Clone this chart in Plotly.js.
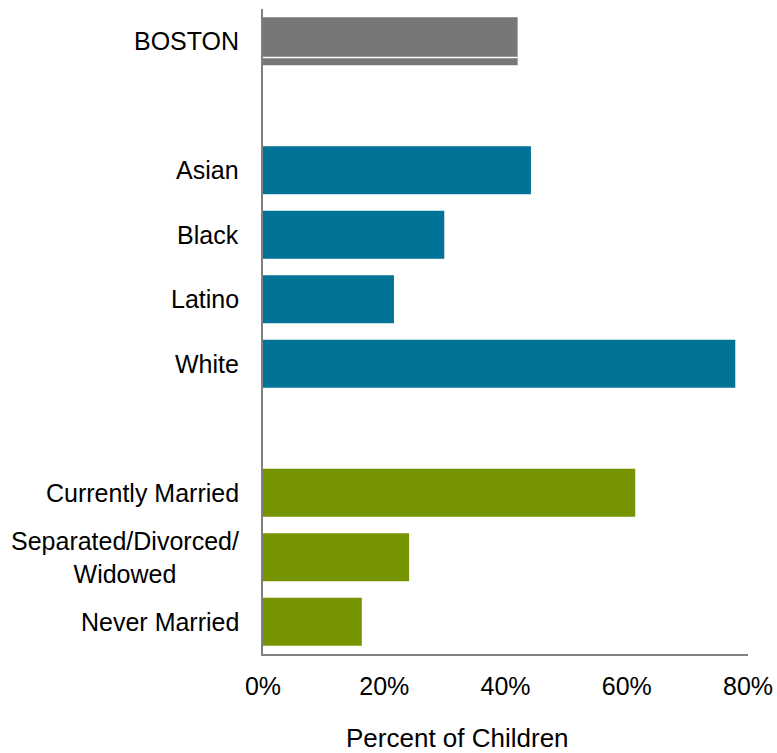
<!DOCTYPE html>
<html>
<head>
<meta charset="utf-8">
<script src="https://cdn.plot.ly/plotly-3.0.1.min.js"></script>
<style>html,body{margin:0;padding:0;background:#fff;}#chart{width:777px;height:753px;}</style>
</head>
<body>
<div id="chart"></div>
<script>
// Category order (top to bottom), with spacer slots between groups
const categoryOrder = ['BOSTON', 'gap1', 'Asian', 'Black', 'Latino', 'White', 'gap2', 'Currently Married', 'Separated/Divorced/<br>Widowed', 'Never Married'];
const labelCategories = ['BOSTON', 'Asian', 'Black', 'Latino', 'White', 'Currently Married', 'Separated/Divorced/<br>Widowed', 'Never Married'];

const bostonCats = ['BOSTON'];
const bostonVals = [42.0];

const raceCats = ['Asian', 'Black', 'Latino', 'White'];
const raceVals = [44.2, 29.9, 21.6, 77.9];

const maritalCats = ['Currently Married', 'Separated/Divorced/<br>Widowed', 'Never Married'];
const maritalVals = [61.4, 24.1, 16.3];

const xTicks = [0, 20, 40, 60, 80];

const FONT = 'Liberation Sans, Arial, sans-serif';
const barWidth = 0.745;

const traces = [
  {type: 'bar', orientation: 'h', y: bostonCats, x: bostonVals, width: barWidth, marker: {color: '#777777'}, hoverinfo: 'none'},
  {type: 'bar', orientation: 'h', y: raceCats, x: raceVals, width: barWidth, marker: {color: '#007396'}, hoverinfo: 'none'},
  {type: 'bar', orientation: 'h', y: maritalCats, x: maritalVals, width: barWidth, marker: {color: '#769400'}, hoverinfo: 'none'}
];

const annotations = labelCategories.map(c => ({
  xref: 'paper', yref: 'y', x: 0, y: c, text: c,
  xanchor: 'right', yanchor: 'middle', xshift: -22, align: 'center',
  showarrow: false, font: {family: FONT, size: 25, color: '#000'}
}));
annotations.push({
  xref: 'paper', yref: 'paper', x: 0.402, y: 0, text: 'Percent of Children',
  xanchor: 'center', yanchor: 'middle', yshift: -84, showarrow: false,
  font: {family: FONT, size: 26, color: '#000'}
});

// thin white line inside the BOSTON bar
const bostonIdx = categoryOrder.indexOf('BOSTON');
const shapes = [{
  type: 'line', xref: 'x', yref: 'y', x0: 0, x1: bostonVals[0],
  y0: bostonIdx + 0.253, y1: bostonIdx + 0.253,
  line: {color: '#ffffff', width: 1.5}
}];

const layout = {
  width: 777, height: 753,
  margin: {l: 263, r: 29, t: 9, b: 99},
  paper_bgcolor: '#ffffff', plot_bgcolor: '#ffffff',
  showlegend: false,
  barmode: 'overlay',
  font: {family: FONT, size: 25, color: '#000'},
  xaxis: {
    range: [0, 80], tickmode: 'array', tickvals: xTicks, ticktext: xTicks.map(v => v + '%'),
    showgrid: false, zeroline: false, showline: true, linecolor: '#808080', linewidth: 2,
    ticks: '', ticklabelstandoff: 9, tickfont: {family: FONT, size: 25, color: '#000'}, fixedrange: true
  },
  yaxis: {
    type: 'category', categoryorder: 'array', categoryarray: categoryOrder,
    range: [9.5, -0.5], showticklabels: false, ticks: '',
    showgrid: false, zeroline: false, showline: true, linecolor: '#808080', linewidth: 2, fixedrange: true
  },
  annotations: annotations,
  shapes: shapes
};

Plotly.newPlot('chart', traces, layout, {displayModeBar: false, staticPlot: true});
</script>
</body>
</html>
